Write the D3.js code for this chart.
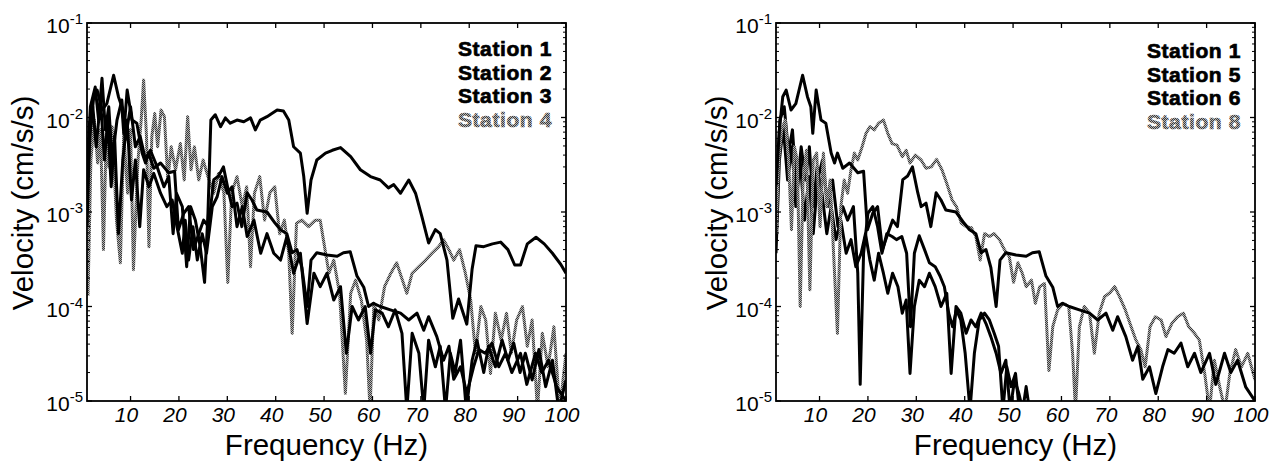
<!DOCTYPE html>
<html>
<head>
<meta charset="utf-8">
<script src="https://cdn.jsdelivr.net/npm/d3@7"></script>
<style>
body { margin: 0; background: #fff; }
svg text { font-family: "Liberation Sans", Arial, Helvetica, sans-serif; }
</style>
</head>
<body>
<svg id="chart" width="1283" height="465"></svg>
<script>
// [frequency (Hz), velocity (cm/s/s)]
var station1 = [[1.0,1.9e-3],[1.7,7.4e-3],[2.4,1.66e-2],[3.1,1.95e-2],[4.1,1.2e-2],[5.1,1.4e-2],[6.5,2.8e-2],[7.5,1.66e-2],
	[8.2,1.3e-2],[8.6,6.8e-3],[9.3,1.95e-2],[10.3,9.4e-3],[11.3,8.7e-3],[12.4,4.2e-3],[13.1,3.3e-3],[13.7,4.2e-3],[14.8,2.9e-3],
	[16.2,3.3e-3],[17.9,2.6e-3],[19.1,2.7e-3],[19.9,6.5e-4],[21.0,9.7e-4],[22.0,1.14e-3],[23.0,4.0e-4],[24.1,5.9e-4],[25.1,8.2e-4],
	[26.1,7.0e-4],[27.2,2.2e-3],[28.2,2.4e-3],[29.2,3.0e-3],[30.3,1.6e-3],[31.0,1.14e-3],[32.0,1.24e-3],[33.0,7.0e-4],[34.1,1.6e-3],
	[35.1,1.34e-3],[36.1,1.05e-3],[38.2,1.0e-3],[39.9,7.6e-4],[41.0,6.5e-4],[42.3,5.9e-4],[43.4,3.7e-4],[44.4,4.0e-4],[45.4,2.6e-4],
	[46.5,1.0e-4],[47.3,3.1e-4],[48.5,3.7e-4],[50.6,3.5e-4],[52.7,3.4e-4],[54.0,3.7e-4],[55.4,3.8e-4],[56.8,2.1e-4],[58.2,1.6e-4],
	[59.2,1.0e-4],[60.2,1.08e-4],[61.6,1.0e-4],[63.7,9.2e-5],[65.8,8.5e-5],[67.5,7.2e-5],[69.2,8.5e-5],[70.6,5.6e-5],[71.6,7.8e-5],
	[73.3,4.8e-5],[74.7,2.7e-5],[75.8,3.8e-5],[76.8,1.7e-5],[78.2,2.3e-5],[79.5,1.2e-5],[80.9,2.3e-5],[82.0,3.5e-5],[83.3,3.2e-5],
	[84.7,4.1e-5],[86.1,2.3e-5],[87.5,3.2e-5],[88.8,2.0e-5],[90.6,3.2e-5],[91.9,1.5e-5],[93.7,3.2e-5],[95.0,2.0e-5],[96.4,2.7e-5],
	[98.1,1.4e-5],[100,1.0e-5]];

var station2 = [[1.0,2.8e-3],[1.7,1.3e-2],[2.7,2.1e-2],[3.4,9.4e-3],[4.1,2.6e-2],[4.8,7.4e-3],[5.5,1.3e-2],[6.2,3.55e-3],
	[7.2,9.4e-3],[8.2,1.53e-2],[8.9,5.8e-3],[10.0,1.3e-2],[11.0,4.9e-3],[12.0,6.3e-3],[13.1,3.55e-3],[14.1,4.5e-3],[15.5,3.0e-3],
	[16.9,1.85e-3],[17.9,2.37e-3],[18.8,5.9e-4],[19.5,1.58e-3],[20.7,1.14e-3],[21.6,2.64e-4],[22.4,1.14e-3],[23.4,8.2e-4],
	[24.4,4.3e-4],[25.3,1.8e-4],[26.0,9.7e-4],[26.6,9.4e-3],[27.5,1.07e-2],[28.6,8.0e-3],[29.6,9.9e-3],[30.6,8.7e-3],[32.0,9.4e-3],
	[33.4,9.0e-3],[34.8,9.9e-3],[35.8,7.4e-3],[36.8,9.4e-3],[38.2,1.02e-2],[39.2,1.1e-2],[40.3,1.2e-2],[41.6,1.17e-2],[42.7,9.4e-3],
	[43.7,4.9e-3],[45.1,4.2e-3],[45.8,2.37e-3],[46.5,9.7e-4],[47.3,2.18e-3],[48.5,3.55e-3],[50.3,4.2e-3],[51.7,4.5e-3],[53.4,4.8e-3],
	[55.5,3.85e-3],[57.5,2.8e-3],[59.6,2.37e-3],[61.6,2.18e-3],[63.3,1.8e-3],[64.4,1.95e-3],[65.8,1.58e-3],[67.5,2.18e-3],
	[68.9,1.58e-3],[70.2,9.0e-4],[71.6,4.7e-4],[73.0,6.5e-4],[74.0,5.9e-4],[75.4,3.1e-4],[76.6,7.5e-5],[77.8,1.2e-4],[79.5,6.5e-5],
	[80.6,2.5e-4],[81.4,4.4e-4],[83.0,4.3e-4],[84.8,4.6e-4],[86.5,4.8e-4],[88.0,4.0e-4],[89.4,2.75e-4],[90.6,2.75e-4],[92.0,4.6e-4],
	[93.8,5.4e-4],[95.5,4.6e-4],[97.2,3.66e-4],[98.9,2.8e-4],[100,2.25e-4]];

var station3 = [[1.0,7.0e-4],[1.55,6.3e-3],[2.2,1.3e-2],[2.9,4.9e-3],[3.8,1.53e-2],[4.6,3.55e-3],[5.3,9.4e-3],[6.0,1.85e-3],
	[6.7,6.3e-3],[7.5,5.9e-4],[8.4,3.55e-3],[9.3,9.4e-3],[10.2,1.34e-3],[11.0,3.55e-3],[11.9,7.0e-4],[12.7,2.8e-3],[13.8,1.85e-3],
	[14.8,2.56e-3],[16.2,1.58e-3],[17.5,1.14e-3],[18.6,1.34e-3],[19.6,7.0e-4],[20.7,3.66e-4],[21.3,8.2e-4],[22.0,3.1e-4],[22.9,7.0e-4],
	[23.8,3.1e-4],[24.8,5.9e-4],[25.7,3.66e-4],[26.9,1.14e-3],[27.9,1.45e-3],[28.9,2.37e-3],[30.0,1.58e-3],[31.0,1.85e-3],[32.0,7.0e-4],
	[33.1,1.14e-3],[34.1,5.5e-4],[35.5,8.2e-4],[36.9,3.66e-4],[38.2,5.9e-4],[39.6,3.66e-4],[41.0,3.1e-4],[42.3,5.5e-4],[43.7,2.25e-4],
	[45.1,3.66e-4],[46.5,6.6e-5],[47.9,2.25e-4],[49.2,1.62e-4],[50.6,2.25e-4],[52.0,1.17e-4],[53.4,1.62e-4],[54.6,3.2e-5],[55.8,1.0e-4],
	[57.1,7.2e-5],[58.5,1.0e-4],[59.6,3.2e-5],[60.6,9.2e-5],[62.0,8.5e-5],[63.3,6.1e-5],[64.7,9.2e-5],[66.1,5.2e-5],[67.1,8e-6],
	[68.2,5.2e-5],[69.6,3.2e-5],[70.6,8e-6],[71.6,4.4e-5],[73.0,2.3e-5],[74.0,3.8e-5],[75.1,8e-6],[76.1,3.2e-5],[77.1,2.0e-5],
	[78.2,4.4e-5],[79.4,8e-6],[80.6,2.7e-5],[81.6,4.4e-5],[83.0,2.0e-5],[84.0,3.8e-5],[85.4,2.3e-5],[86.8,4.4e-5],[88.0,2.7e-5],
	[89.2,4.1e-5],[90.5,2.0e-5],[91.6,3.2e-5],[93.0,1.67e-5],[94.4,3.5e-5],[95.8,1.42e-5],[97.2,2.7e-5],[98.5,8e-6],[100,1.67e-5]];

var station4 = [[1.2,1.3e-4],[1.8,3.55e-3],[2.5,9.4e-3],[3.2,3.3e-3],[3.8,7.4e-3],[4.4,4.0e-4],[5.0,7.4e-3],[5.5,3.0e-3],
	[6.2,8.0e-3],[7.1,8.2e-4],[7.9,2.9e-4],[8.6,6.8e-3],[9.4,1.58e-3],[10.0,7.4e-3],[10.6,2.45e-4],[11.5,3.3e-3],[12.2,9.4e-3],
	[12.7,2.5e-2],[13.3,6.3e-3],[13.8,4.3e-4],[14.4,6.3e-3],[15.0,1.1e-2],[15.6,4.9e-3],[16.3,1.2e-2],[17.0,1.02e-2],[17.7,2.18e-3],
	[18.4,4.9e-3],[19.3,2.8e-3],[20.3,5.3e-3],[21.1,2.18e-3],[21.8,1.02e-2],[22.5,2.8e-3],[23.2,4.9e-3],[24.1,2.18e-3],[25.0,3.55e-3],
	[26.0,2.37e-3],[27.2,1.58e-3],[28.2,2.56e-3],[29.3,1.58e-3],[30.1,1.8e-4],[30.9,1.58e-3],[32.0,2.37e-3],[33.1,1.14e-3],
	[34.0,1.85e-3],[34.8,2.64e-4],[35.6,1.58e-3],[36.7,2.37e-3],[37.7,8.2e-4],[38.8,1.6e-3],[39.8,1.85e-3],[40.8,5.9e-4],[41.8,8.2e-4],
	[42.7,3.66e-4],[43.4,5.2e-5],[44.3,7.6e-4],[45.4,8.2e-4],[46.8,7.0e-4],[48.2,8.2e-4],[49.2,8.2e-4],[50.1,4.3e-4],[51.0,2.25e-4],
	[52.0,3.1e-4],[53.2,1.38e-4],[54.4,1.2e-5],[55.5,1.38e-4],[56.5,1.9e-4],[57.7,1.17e-4],[58.8,4.4e-5],[59.5,8e-6],[60.3,1.08e-4],
	[61.3,7.2e-5],[62.5,1.62e-4],[63.8,2.25e-4],[65.0,2.9e-4],[66.2,1.9e-4],[67.1,1.38e-4],[68.2,2.25e-4],[69.6,2.64e-4],[71.0,3.1e-4],
	[72.3,3.66e-4],[73.7,4.3e-4],[74.7,5.1e-4],[75.8,4.0e-4],[76.8,3.1e-4],[78.0,4.0e-4],[79.2,2.25e-4],[80.3,1.17e-4],[81.3,3.2e-5],
	[82.4,1.0e-4],[83.4,7.2e-5],[84.4,1.96e-5],[85.4,8.5e-5],[86.6,4.4e-5],[87.7,8.5e-5],[88.7,3.2e-5],[89.8,7.2e-5],[91.0,1.0e-4],
	[92.0,3.8e-5],[93.0,7.2e-5],[94.1,8e-6],[95.1,5.2e-5],[96.3,2.3e-5],[97.5,6.1e-5],[98.7,8e-6],[100,3.2e-5]];

var station5 = [[1.0,3.66e-4],[1.7,3.55e-3],[2.5,8.0e-3],[3.4,2.18e-3],[4.3,4.9e-3],[5.1,1.14e-3],[6.0,3.55e-3],[6.9,8.2e-4],
	[7.8,2.37e-3],[8.7,5.9e-4],[9.6,2.18e-3],[10.6,3.55e-3],[11.7,1.14e-3],[12.7,2.18e-3],[13.8,7.0e-4],[14.8,1.14e-3],[15.8,8.2e-4],
	[17.0,1.14e-3],[17.9,2.25e-4],[18.4,1.5e-5],[19.1,3.66e-4],[20.0,9.7e-4],[21.0,1.14e-3],[22.0,7.0e-4],[22.9,3.66e-4],[23.9,5.9e-4],
	[25.0,5.5e-4],[25.9,5.1e-4],[27.0,5.5e-4],[28.0,3.66e-4],[28.8,6.1e-5],[29.6,3.66e-4],[30.6,5.6e-4],[31.7,4.0e-4],[32.7,2.9e-4],
	[33.9,2.64e-4],[34.9,2.1e-4],[35.8,1.62e-4],[36.7,8.5e-5],[37.5,6.1e-5],[38.3,9.2e-5],[39.2,7.2e-5],[40.1,3.2e-5],[41.1,8e-6],
	[42.0,3.2e-5],[43.0,7.2e-5],[44.1,8.5e-5],[45.1,7.2e-5],[46.1,5.2e-5],[47.0,3.8e-5],[47.9,8e-6],[48.7,2.3e-5],[49.6,1.42e-5],
	[50.5,1.96e-5],[51.3,8e-6]];

var station6 = [[1.0,1.14e-3],[1.8,9.4e-3],[2.7,1.3e-2],[3.6,4.2e-3],[4.4,7.4e-3],[5.3,1.58e-3],[6.2,4.9e-3],[7.1,2.18e-3],
	[7.9,4.9e-3],[8.7,1.14e-3],[9.5,3.0e-3],[10.5,1.58e-3],[11.5,5.9e-4],[12.4,1.14e-3],[13.4,5.1e-4],[14.4,8.2e-4],[15.5,3.66e-4],
	[16.5,5.1e-4],[17.5,2.64e-4],[18.6,3.66e-4],[19.5,5.9e-4],[20.4,3.1e-4],[21.3,1.9e-4],[22.2,3.66e-4],[23.2,2.25e-4],[24.1,1.38e-4],
	[25.1,2.25e-4],[26.2,1.62e-4],[27.1,8.5e-5],[27.9,1.17e-4],[28.7,1.96e-5],[29.6,1.0e-4],[30.6,1.9e-4],[31.7,1.62e-4],[32.7,2.25e-4],
	[33.9,1.62e-4],[35.1,1.0e-4],[36.3,1.38e-4],[37.2,1.96e-5],[38.2,1.0e-4],[39.2,8.5e-5],[40.3,5.2e-5],[41.3,7.2e-5],[42.3,6.1e-5],
	[43.4,8.5e-5],[44.4,6.6e-5],[45.4,4.8e-5],[46.5,3.2e-5],[47.5,1.96e-5],[48.5,2.7e-5],[49.4,8e-6],[50.3,1.67e-5],[51.2,1.2e-5],
	[52.0,8e-6],[52.7,1.42e-5],[53.4,8e-6]];

var station8 = [[1.0,5.9e-4],[1.55,3.55e-3],[2.2,7.4e-3],[2.9,9.4e-3],[3.6,3.55e-3],[4.2,6.5e-4],[4.8,4.9e-3],[5.4,3.55e-3],
	[6.0,1.0e-4],[6.6,2.18e-3],[7.3,4.5e-3],[8.0,1.5e-4],[8.7,3.55e-3],[9.4,4.2e-3],[10.1,7.0e-4],[10.8,4.2e-3],[11.5,1.14e-3],
	[12.2,2.18e-3],[12.9,3.66e-4],[13.7,5.2e-5],[14.4,1.14e-3],[15.1,2.18e-3],[15.8,1.58e-3],[16.5,2.8e-3],[17.2,4.2e-3],[17.9,3.55e-3],
	[18.8,4.9e-3],[19.6,6.8e-3],[20.4,8.0e-3],[21.3,7.4e-3],[22.2,8.7e-3],[23.2,9.4e-3],[24.1,6.8e-3],[25.0,5.3e-3],[26.0,5.1e-3],
	[27.1,3.85e-3],[27.9,4.5e-3],[28.7,3.3e-3],[29.8,4.0e-3],[31.0,3.55e-3],[32.0,2.9e-3],[33.1,3.0e-3],[34.2,3.6e-3],[35.3,2.8e-3],
	[36.3,2.0e-3],[37.4,1.34e-3],[38.3,1.14e-3],[39.3,7.6e-4],[40.3,7.0e-4],[41.4,6.8e-4],[42.3,5.5e-4],[43.2,3.1e-4],[44.1,5.9e-4],
	[45.1,5.5e-4],[46.1,5.9e-4],[47.2,5.1e-4],[48.2,4.0e-4],[49.2,3.4e-4],[50.1,1.8e-4],[51.0,2.9e-4],[51.9,2.25e-4],[52.7,1.62e-4],
	[53.8,1.9e-4],[54.6,1.08e-4],[55.5,1.62e-4],[56.5,1.75e-4],[57.4,2.1e-5],[58.2,6.1e-5],[59.2,9.2e-5],[60.4,1.08e-4],[61.5,1.0e-4],
	[62.3,3.2e-5],[62.9,8e-6],[63.7,6.1e-5],[64.7,1.0e-4],[65.8,8.5e-5],[66.8,3.2e-5],[67.8,8.5e-5],[68.9,1.27e-4],[70.0,1.4e-4],
	[71.0,1.62e-4],[72.0,1.27e-4],[73.2,9.2e-5],[74.4,6.1e-5],[75.4,4.4e-5],[76.4,3.5e-5],[77.3,2.3e-5],[78.3,6.1e-5],[79.4,7.8e-5],
	[80.6,7.2e-5],[81.6,4.8e-5],[82.8,6.6e-5],[84.0,7.8e-5],[85.2,8.5e-5],[86.3,6.1e-5],[87.5,5.2e-5],[88.5,4.4e-5],[89.6,1.96e-5],
	[90.6,8e-6],[91.6,2.7e-5],[92.7,1.42e-5],[93.8,8e-6],[94.8,1.96e-5],[96.0,3.5e-5],[97.2,2.3e-5],[98.5,3.2e-5],[100,1.67e-5]];

var leftNames = ["Station 1", "Station 2", "Station 3", "Station 4"];
var rightNames = ["Station 1", "Station 5", "Station 6", "Station 8"];
var freqTicks = [10, 20, 30, 40, 50, 60, 70, 80, 90, 100];
var velTicks = [1e-5, 1e-4, 1e-3, 1e-2, 1e-1];
var velTickExp = ["-5", "-4", "-3", "-2", "-1"];

var PLOT_W = 479;
var PLOT_H = 378;
var LINE_W = 3;
var LEGEND_SIZE = 21;
var LEGEND_STEP = 23.5;

var svg = d3.select("#chart");

// dithered grey like the scanned print
var defs = svg.append("defs");
var dither = defs.append("pattern").attr("id", "dither") //
.attr("width", 2).attr("height", 2) //
.attr("patternUnits", "userSpaceOnUse");
dither.append("rect").attr("width", 2).attr("height", 2).attr("fill", "#b4b4b4");
dither.append("rect").attr("width", 1).attr("height", 1).attr("fill", "#3a3a3a");
dither.append("rect").attr("x", 1).attr("y", 1).attr("width", 1).attr("height", 1).attr("fill", "#3a3a3a");

var xScale = d3.scaleLinear().domain([ 1, 100 ]).range([ 0, PLOT_W ]);
var yScale = d3.scaleLog().domain([ 1e-5, 1e-1 ]).range([ PLOT_H, 0 ]);

var line = d3.line() //
.x(function(d) {
	return xScale(d[0]);
}) //
.y(function(d) {
	return yScale(d[1]);
});

// series: index 3 is the grey one; order: drawing order (last on top)
function drawPanel(id, left, top, yLabelX, legendTop, names, series, order) {

	var g = svg.append("g").attr("transform", "translate(" + left + "," + top + ")");

	g.append("clipPath").attr("id", "clip" + id) //
	.append("rect").attr("width", PLOT_W).attr("height", PLOT_H);

	var lines = g.append("g").attr("clip-path", "url(#clip" + id + ")");

	order.forEach(function(i) {
		lines.append("path").datum(series[i]) //
		.attr("d", line) //
		.attr("fill", "none") //
		.attr("stroke", i == 3 ? "url(#dither)" : "#000") //
		.attr("stroke-width", LINE_W) //
		.attr("stroke-linejoin", "round");
	});

	// frame
	g.append("rect").attr("width", PLOT_W).attr("height", PLOT_H) //
	.attr("fill", "none").attr("stroke", "#000").attr("stroke-width", 1.8);

	// x ticks, bottom and top, inward
	freqTicks.forEach(function(f) {
		var x = xScale(f);
		g.append("line").attr("x1", x).attr("x2", x).attr("y1", PLOT_H).attr("y2", PLOT_H - 5) //
		.attr("stroke", "#000").attr("stroke-width", 1.3);
		g.append("line").attr("x1", x).attr("x2", x).attr("y1", 0).attr("y2", 5) //
		.attr("stroke", "#000").attr("stroke-width", 1.3);
		g.append("text").attr("x", x - 4).attr("y", PLOT_H + 21) //
		.attr("text-anchor", "middle").attr("font-size", 21).attr("font-style", "italic") //
		.text(f);
	});

	// y ticks, decades and minors, both sides
	velTicks.forEach(function(v, i) {
		var y = yScale(v);
		g.append("line").attr("x1", 0).attr("x2", 5).attr("y1", y).attr("y2", y) //
		.attr("stroke", "#000").attr("stroke-width", 1.3);
		g.append("line").attr("x1", PLOT_W - 5).attr("x2", PLOT_W).attr("y1", y).attr("y2", y) //
		.attr("stroke", "#000").attr("stroke-width", 1.3);

		var label = g.append("text").attr("x", -4).attr("y", y + 10) //
		.attr("text-anchor", "end").attr("font-size", 21);
		label.append("tspan").text("10");
		label.append("tspan").attr("dy", -9).attr("font-size", 15).text(velTickExp[i]);

		if (i < velTicks.length - 1) {
			for (var k = 2; k <= 9; k++) {
				var ym = yScale(v * k);
				g.append("line").attr("x1", 0).attr("x2", 3).attr("y1", ym).attr("y2", ym) //
				.attr("stroke", "#000").attr("stroke-width", 1);
				g.append("line").attr("x1", PLOT_W - 3).attr("x2", PLOT_W).attr("y1", ym).attr("y2", ym) //
				.attr("stroke", "#000").attr("stroke-width", 1);
			}
		}
	});

	// axis titles
	g.append("text").attr("x", PLOT_W / 2).attr("y", PLOT_H + 54) //
	.attr("text-anchor", "middle").attr("font-size", 29.5) //
	.text("Frequency (Hz)");

	g.append("text").attr("transform", "translate(" + yLabelX + "," + (203 - top) + ") rotate(-90)") //
	.attr("text-anchor", "middle").attr("font-size", 29.5) //
	.text("Velocity (cm/s/s)");

	// legend, right aligned, a thin outline makes it as heavy as the print
	names.forEach(function(name, i) {
		var colour = i == names.length - 1 ? "url(#dither)" : "#000";
		g.append("text").attr("x", PLOT_W - 14).attr("y", legendTop + i * LEGEND_STEP) //
		.attr("text-anchor", "end").attr("font-size", LEGEND_SIZE).attr("font-weight", "bold") //
		.attr("letter-spacing", 0.6) //
		.attr("fill", colour).attr("stroke", colour).attr("stroke-width", 0.7) //
		.text(name);
	});

}// END: drawPanel

drawPanel("L", 87, 23, -54, 33, leftNames, [ station1, station2, station3, station4 ], [ 3, 2, 1, 0 ]);
drawPanel("R", 776, 23, -49, 35, rightNames, [ station1, station5, station6, station8 ], [ 2, 1, 3, 0 ]);
</script>
</body>
</html>
